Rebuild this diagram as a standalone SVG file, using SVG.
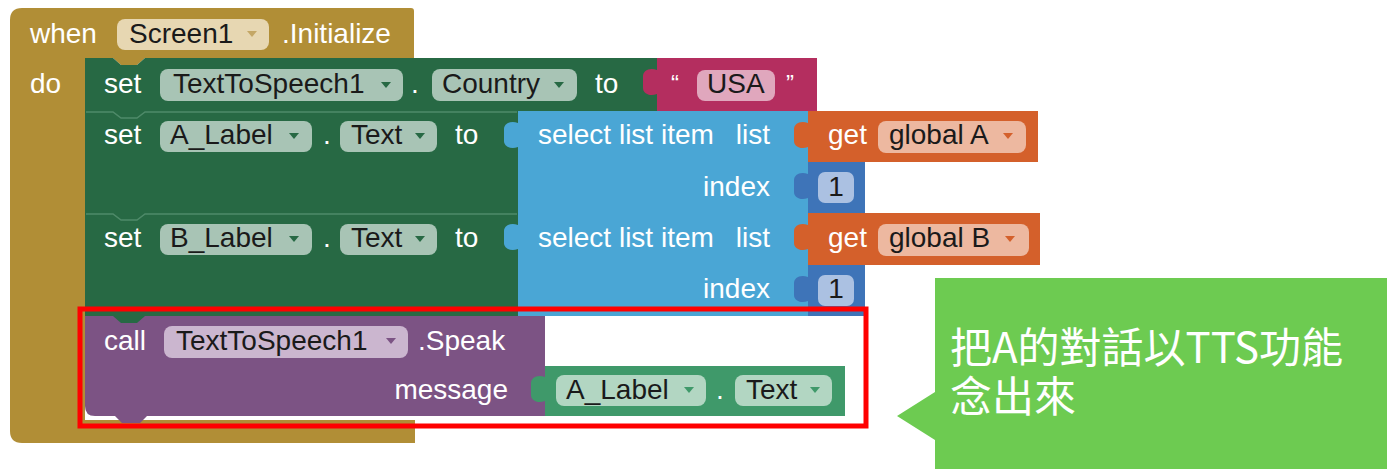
<svg xmlns="http://www.w3.org/2000/svg" width="1387" height="469" viewBox="0 0 1387 469">
<defs>
<style>
.t{font-family:"Liberation Sans",Arial,sans-serif;font-size:28px;fill:#ffffff}
.f{font-family:"Liberation Sans",Arial,sans-serif;font-size:28px;fill:#1a1a1a}
.q{font-family:"Liberation Sans",Arial,sans-serif;font-size:24px;fill:#ffffff}
.green{fill:#276944}
.fg{fill:#a8c4b5}
.blue{fill:#4aa6d5}
.orange{fill:#d4602b}
.fo{fill:#edb8a0}
.num{fill:#3e74b8}
.fn{fill:#abc1e2}
.pink{fill:#b42e5f}
.fp{fill:#e0a7bd}
.purple{fill:#7c5384}
.fpu{fill:#cbb6cf}
.lg{fill:#3f996a}
.flg{fill:#b2d6c2}
.sep{fill:none;stroke:#4f8a69;stroke-width:1.5}
.cjk{font-family:"Noto Sans CJK TC","Noto Sans CJK SC",sans-serif;font-size:42px;fill:#ffffff}
</style>
<path id="tab" d="M0,12 C-8,9 -14,13 -14,18 V30 C-14,35 -8,39 0,36 Z"/>
<path id="arr" d="M0,0 H10 L5,6 Z"/>
</defs>

<g id="event-initialize">
<path d="M22,8 H411 Q414,8 414,11 V58 H145 L137,65 H121 L113,58 H85 V420 H415 V443 H22 Q10,443 10,431 V20 Q10,8 22,8 Z" fill="#b18e36"/>
<text class="t" x="30" y="43">when</text>
<rect x="117" y="19" width="152" height="31" rx="8" fill="#e7d7b2"/>
<text class="f" x="129" y="43">Screen1</text>
<use href="#arr" x="247" y="31" fill="#c4a766"/>
<text class="t" x="282" y="43">.Initialize</text>
<text class="t" x="30" y="93">do</text>
</g>

<g id="set-country">
<path class="green" d="M85,58 H113 L121,65 H137 L145,58 H657 V111 H85 Z"/>
<text class="t" x="104" y="93">set</text>
<rect class="fg" x="160" y="69" width="243" height="32" rx="8"/>
<text class="f" x="173" y="93">TextToSpeech1</text>
<use href="#arr" x="381" y="82" fill="#276944"/>
<text class="t" x="411" y="93">.</text>
<rect class="fg" x="432" y="69" width="145" height="32" rx="8"/>
<text class="f" x="442" y="93">Country</text>
<use href="#arr" x="554" y="82" fill="#276944"/>
<text class="t" x="595" y="93">to</text>
</g>

<g id="text-usa">
<rect class="pink" x="657" y="58" width="160" height="53"/>
<use href="#tab" x="657" y="58" class="pink"/>
<text class="q" x="671" y="92">“</text>
<rect class="fp" x="697" y="70" width="78" height="31" rx="8"/>
<text class="f" x="707" y="93">USA</text>
<text class="q" x="786" y="92">”</text>
</g>

<g id="set-a-label">
<rect class="green" x="85" y="111" width="433" height="102"/>
<path class="sep" d="M86,112 H113 L121,118 H137 L145,112 H517"/>
<text class="t" x="104" y="144">set</text>
<rect class="fg" x="160" y="121" width="152" height="31" rx="8"/>
<text class="f" x="170" y="144">A_Label</text>
<use href="#arr" x="289" y="133" fill="#276944"/>
<text class="t" x="323" y="144">.</text>
<rect class="fg" x="340" y="121" width="97" height="31" rx="8"/>
<text class="f" x="351" y="144">Text</text>
<use href="#arr" x="415" y="133" fill="#276944"/>
<text class="t" x="455" y="144">to</text>
</g>

<g id="select-a">
<rect class="blue" x="518" y="111" width="290" height="102"/>
<use href="#tab" x="518" y="111" class="blue"/>
<text class="t" x="538" y="144">select list item</text>
<text class="t" x="770" y="144" text-anchor="end">list</text>
<text class="t" x="770" y="196" text-anchor="end">index</text>
</g>

<g id="get-global-a">
<rect class="orange" x="808" y="111" width="230" height="51"/>
<use href="#tab" x="808" y="111" class="orange"/>
<text class="t" x="828" y="144">get</text>
<rect class="fo" x="878" y="121" width="148" height="32" rx="8"/>
<text class="f" x="889" y="144">global A</text>
<use href="#arr" x="1003" y="133" fill="#d4602b"/>
</g>

<g id="num-a">
<rect class="num" x="808" y="162" width="57" height="51"/>
<use href="#tab" x="808" y="162" class="num"/>
<rect class="fn" x="818" y="172" width="36" height="31" rx="7"/>
<text class="f" x="836" y="196" text-anchor="middle">1</text>
</g>

<g id="set-b-label">
<rect class="green" x="85" y="213" width="433" height="103"/>
<path class="sep" d="M86,214 H113 L121,220 H137 L145,214 H517"/>
<text class="t" x="104" y="247">set</text>
<rect class="fg" x="160" y="224" width="152" height="31" rx="8"/>
<text class="f" x="170" y="247">B_Label</text>
<use href="#arr" x="289" y="236" fill="#276944"/>
<text class="t" x="323" y="247">.</text>
<rect class="fg" x="340" y="224" width="97" height="31" rx="8"/>
<text class="f" x="351" y="247">Text</text>
<use href="#arr" x="415" y="236" fill="#276944"/>
<text class="t" x="455" y="247">to</text>
</g>

<g id="select-b">
<rect class="blue" x="518" y="213" width="290" height="103"/>
<use href="#tab" x="518" y="213" class="blue"/>
<text class="t" x="538" y="247">select list item</text>
<text class="t" x="770" y="247" text-anchor="end">list</text>
<text class="t" x="770" y="298" text-anchor="end">index</text>
</g>

<g id="get-global-b">
<rect class="orange" x="808" y="213" width="232" height="52"/>
<use href="#tab" x="808" y="213" class="orange"/>
<text class="t" x="828" y="247">get</text>
<rect class="fo" x="878" y="224" width="151" height="32" rx="8"/>
<text class="f" x="889" y="247">global B</text>
<use href="#arr" x="1005" y="236" fill="#d4602b"/>
</g>

<g id="num-b">
<rect class="num" x="808" y="265" width="57" height="51"/>
<use href="#tab" x="808" y="265" class="num"/>
<rect class="fn" x="818" y="275" width="36" height="31" rx="7"/>
<text class="f" x="836" y="298" text-anchor="middle">1</text>
</g>

<g id="call-speak">
<path class="purple" d="M85,316 H545 V416 H147 L140,423 H122 L115,416 H95 Q85,416 85,406 Z"/>
<path class="green" d="M113,316 L121,323 H137 L145,316 Z"/>
<text class="t" x="104" y="350">call</text>
<rect class="fpu" x="164" y="326" width="244" height="32" rx="8"/>
<text class="f" x="176" y="350">TextToSpeech1</text>
<use href="#arr" x="386" y="338" fill="#7c5384"/>
<text class="t" x="418" y="350">.Speak</text>
<text class="t" x="508" y="399" text-anchor="end">message</text>
</g>

<g id="a-label-text">
<rect class="lg" x="545" y="366" width="300" height="50"/>
<use href="#tab" x="545" y="365" class="lg"/>
<rect class="flg" x="556" y="375" width="150" height="31" rx="8"/>
<text class="f" x="566" y="399">A_Label</text>
<use href="#arr" x="684" y="387" fill="#3f996a"/>
<text class="t" x="716" y="399">.</text>
<rect class="flg" x="735" y="375" width="97" height="31" rx="8"/>
<text class="f" x="746" y="399">Text</text>
<use href="#arr" x="810" y="387" fill="#3f996a"/>
</g>

<g id="highlight-box">
<rect x="80" y="309" width="786" height="117" fill="none" stroke="#ff0000" stroke-width="5"/>
</g>

<g id="callout">
<path d="M935,278 H1387 V469 H935 V440 L897,416 L935,392 Z" fill="#6dcb51"/>
<text class="cjk" x="950" y="363">把A的對話以TTS功能</text>
<text class="cjk" x="950" y="412">念出來</text>
</g>

<g id="connectors"/>
</svg>
